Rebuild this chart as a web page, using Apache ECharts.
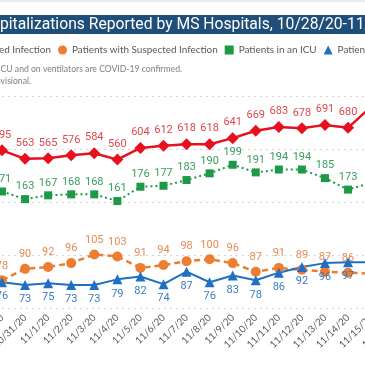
<!DOCTYPE html>
<html><head><meta charset="utf-8">
<script src="https://cdn.jsdelivr.net/npm/echarts@6/dist/echarts.min.js"></script>
<style>
html,body{margin:0;padding:0;width:365px;height:365px;overflow:hidden;background:#fff;}
#c{position:absolute;left:-300px;top:0;width:1000px;height:365px;}
</style></head>
<body><div id="c"></div>
<script>
// ---- data ----
const dates = ['10/30/20','10/31/20','11/1/20','11/2/20','11/3/20','11/4/20','11/5/20','11/6/20','11/7/20','11/8/20','11/9/20','11/10/20','11/11/20','11/12/20','11/13/20','11/14/20','11/15/20','11/16/20'];
const confirmed = [595,563,565,576,584,560,604,612,618,618,641,669,683,678,691,680,760,null];
const suspected = [78,90,92,96,105,103,91,94,98,100,96,87,91,89,87,86,85,null];
const icu       = [171,163,167,168,168,161,176,177,183,190,199,191,194,194,185,173,180,null];
const vent      = [76,73,75,73,73,79,82,74,87,76,83,78,86,92,96,97,97,null];
const names = ['Patients with Confirmed Infection','Patients with Suspected Infection','Patients in an ICU','Patients on Ventilators'];
const titleText = 'COVID-19 Hospitalizations Reported by MS Hospitals, 10/28/20-11/16/20';
const noteText = 'Patients in an ICU and on ventilators are COVID-19 confirmed.';
const note2Text = 'Data are provisional.';
const unlabeledDate = '11/15/20'; // its labels lie outside the visible frame

const OFF = 300; // container offset (visible window starts here)
function measure(t, font){const c=document.createElement('canvas').getContext('2d');c.font=font;return c.measureText(t).width;}

// title sizing
const tFam = 'Roboto';
const tSize = 15 * 277 / measure('pitalizations Reported by MS Hospitals, ', '15px '+tFam);
const tX = OFF - measure('COVID-19 Hos', tSize+'px '+tFam);

// legend sizing
const lFam = 'Lato';
const lSize = 10 * 146 / measure(names[1], '10px '+lFam);
const iconW = 9, gap = 7;
const w1 = measure(names[0], lSize+'px '+lFam);
const legendLeft = OFF + 58 - (iconW + 5 + w1 + gap);

// note sizing
const nSize = 9 * 182 / measure('CU and on ventilators are COVID-19 confirmed.', '9px '+lFam);

function withLabels(arr){
  const k = dates.indexOf(unlabeledDate);
  return arr.map((v,i)=> i===k ? {value:v, label:{show:false}} : v);
}

const chart = echarts.init(document.getElementById('c'), null, {renderer:'canvas'});
const lblFont = 'Roboto';
chart.setOption({
  animation:false,
  backgroundColor:'#ffffff',
  graphic:[
    {type:'rect', shape:{x:0,y:0,width:1000,height:2}, style:{fill:'#ececec'}, silent:true},
    {type:'rect', shape:{x:0,y:15,width:1000,height:19}, style:{fill:'#1f4e79'}, silent:true},
    {type:'text', x:tX, y:25, style:{text:titleText, fill:'#ffffff', font:tSize.toFixed(2)+'px '+tFam, textVerticalAlign:'middle', textAlign:'left'}},
    {type:'text', x:OFF+182, y:69, style:{text:noteText, fill:'#808080', font:nSize.toFixed(2)+'px '+lFam, textAlign:'right', textVerticalAlign:'middle'}},
    {type:'text', x:OFF+31, y:81, style:{text:note2Text, fill:'#808080', font:nSize.toFixed(2)+'px '+lFam, textAlign:'right', textVerticalAlign:'middle'}}
  ],
  legend:{
    left:legendLeft, top:45, padding:0, itemGap:gap, itemWidth:iconW, itemHeight:9,
    textStyle:{color:'#595959', fontFamily:lFam, fontSize:lSize},
    data:[
      {name:names[0], icon:'diamond'},
      {name:names[1], icon:'circle'},
      {name:names[2], icon:'rect'},
      {name:names[3], icon:'triangle'}
    ]
  },
  grid:{left:OFF+2, right:1000-(OFF+2+23.07*(dates.length-1)), top:96, bottom:57, containLabel:false, outerBoundsMode:'none'},
  xAxis:{type:'category', data:dates, boundaryGap:false,
    axisLine:{show:false}, axisTick:{show:false},
    axisLabel:{rotate:45, margin:8, color:'#595959', fontFamily:lFam, fontSize:9.8, interval:0}},
  yAxis:[
    {type:'value', min:0, max:800, interval:200, axisLabel:{show:false}, axisLine:{show:false}, axisTick:{show:false},
     splitLine:{show:true, lineStyle:{color:'#d4d4d4', type:[2,4], width:1}}},
    {type:'value', min:49, max:271, axisLabel:{show:false}, axisLine:{show:false}, axisTick:{show:false}, splitLine:{show:false}}
  ],
  series:[
    {name:names[0], type:'line', data:withLabels(confirmed), yAxisIndex:0, symbol:'diamond', symbolSize:[12,12],
     itemStyle:{color:'#e8101f'}, lineStyle:{color:'#e8101f', width:2.5},
     label:{show:true, position:'top', distance:4, color:'#e0474c', fontFamily:lblFont, fontSize:11}},
    {name:names[1], type:'line', data:withLabels(suspected), yAxisIndex:1, symbol:'circle', symbolSize:10,
     itemStyle:{color:'#ed7d31'}, lineStyle:{color:'#ed7d31', width:2.5, type:[6,4]},
     label:{show:true, position:'top', distance:4, color:'#e88a55', fontFamily:lblFont, fontSize:11}},
    {name:names[2], type:'line', data:withLabels(icu), yAxisIndex:1, symbol:'rect', symbolSize:8,
     itemStyle:{color:'#1c9a48'}, lineStyle:{color:'#1c9a48', width:2, type:[2,3]},
     label:{show:true, position:'top', distance:3, color:'#3a9c5e', fontFamily:lblFont, fontSize:11}},
    {name:names[3], type:'line', data:withLabels(vent), yAxisIndex:1, symbol:'triangle', symbolSize:10,
     itemStyle:{color:'#1f6fc5'}, lineStyle:{color:'#1f6fc5', width:2},
     label:{show:true, position:'bottom', distance:4, color:'#3a7cc4', fontFamily:lblFont, fontSize:11}}
  ]
});
</script></body></html>
